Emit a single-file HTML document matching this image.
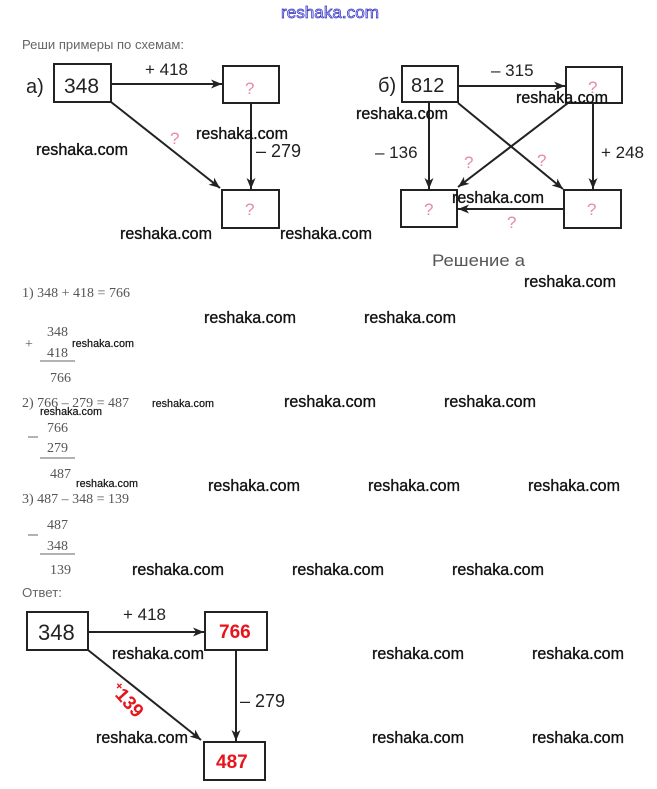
<!DOCTYPE html>
<html><head><meta charset="utf-8"><style>
html,body{margin:0;padding:0;background:#fff;}
svg{display:block;}
.wm{font-family:"Liberation Sans",sans-serif;font-size:17px;fill:#111;stroke:#111;stroke-width:0.35px;}
.wms{font-family:"Liberation Sans",sans-serif;font-size:11px;fill:#111;stroke:#111;stroke-width:0.2px;}
.d{font-family:"Liberation Sans",sans-serif;fill:#222;}
.q{font-family:"Liberation Sans",sans-serif;fill:#e58bb0;font-size:17px;}
.s{font-family:"Liberation Serif",serif;fill:#555;font-size:14px;}
.r{font-family:"Liberation Sans",sans-serif;fill:#e8141c;font-weight:bold;}
</style></head><body>
<svg width="657" height="789" viewBox="0 0 657 789" xmlns="http://www.w3.org/2000/svg">
<defs>
<marker id="ah" markerUnits="userSpaceOnUse" markerWidth="12" markerHeight="10" refX="11" refY="5" orient="auto">
<path d="M0,0.5 L11,5 L0,9.5 L3,5 z" fill="#222"/>
</marker>
</defs>
<rect width="657" height="789" fill="#fff"/>

<!-- top blue watermark -->
<text x="281" y="18" font-family="Liberation Sans, sans-serif" font-size="17" fill="#d6d6f5" stroke="#2f2fc4" stroke-width="0.7" textLength="98" lengthAdjust="spacingAndGlyphs">reshaka.com</text>

<text x="22" y="49" font-family="Liberation Sans, sans-serif" font-size="12.5" fill="#666" textLength="162" lengthAdjust="spacingAndGlyphs">Реши примеры по схемам:</text>

<!-- Part a -->
<g stroke="#222" stroke-width="2" fill="none">
<rect x="54" y="64" width="57" height="38"/>
<rect x="223" y="66" width="56" height="37"/>
<rect x="222" y="190" width="57" height="38"/>
<line x1="111" y1="84" x2="222" y2="84" marker-end="url(#ah)"/>
<line x1="251" y1="103" x2="251" y2="189" marker-end="url(#ah)"/>
<line x1="111" y1="102" x2="220" y2="188" marker-end="url(#ah)"/>
</g>
<text class="d" x="26" y="93" font-size="20">a)</text>
<text class="d" x="64" y="93" font-size="21">348</text>
<text class="d" x="145" y="75" font-size="17">+ 418</text>
<text class="d" x="256" y="157" font-size="18">– 279</text>
<text class="q" x="245" y="94">?</text>
<text class="q" x="245" y="215">?</text>
<text class="q" x="170" y="144">?</text>

<!-- Part b -->
<g stroke="#222" stroke-width="2" fill="none">
<rect x="402" y="66" width="56" height="36"/>
<rect x="566" y="67" width="56" height="36"/>
<rect x="401" y="190" width="56" height="37"/>
<rect x="564" y="190" width="57" height="38"/>
<line x1="458" y1="86" x2="565" y2="86" marker-end="url(#ah)"/>
<line x1="429" y1="102" x2="429" y2="189" marker-end="url(#ah)"/>
<line x1="593" y1="103" x2="593" y2="189" marker-end="url(#ah)"/>
<line x1="458" y1="103" x2="563" y2="189" marker-end="url(#ah)"/>
<line x1="568" y1="103" x2="458" y2="187" marker-end="url(#ah)"/>
<line x1="564" y1="209" x2="458" y2="209" marker-end="url(#ah)"/>
</g>
<text class="d" x="378" y="92" font-size="20">б)</text>
<text class="d" x="411" y="92" font-size="20">812</text>
<text class="d" x="491" y="76" font-size="17">– 315</text>
<text class="d" x="375" y="158" font-size="17">– 136</text>
<text class="d" x="601" y="158" font-size="17">+ 248</text>
<text class="q" x="588" y="93">?</text>
<text class="q" x="424" y="215">?</text>
<text class="q" x="587" y="215">?</text>
<text class="q" x="464" y="168">?</text>
<text class="q" x="537" y="166">?</text>
<text class="q" x="507" y="228">?</text>
<text x="432" y="266" font-family="Liberation Sans, sans-serif" font-size="17" fill="#555" textLength="93" lengthAdjust="spacingAndGlyphs">Решение а</text>

<!-- Computations -->
<text class="s" x="22" y="297">1) 348 + 418 = 766</text>
<text class="s" x="47" y="336">348</text>
<text class="s" x="25" y="348" font-size="18">+</text>
<text class="s" x="47" y="357">418</text>
<line x1="40" y1="361" x2="75" y2="361" stroke="#666" stroke-width="1"/>
<text class="s" x="50" y="382">766</text>

<text class="s" x="22" y="407">2) 766 – 279 = 487</text>
<text class="s" x="47" y="432">766</text>
<line x1="28" y1="437" x2="38" y2="437" stroke="#666" stroke-width="1"/>
<text class="s" x="47" y="452">279</text>
<line x1="40" y1="458" x2="75" y2="458" stroke="#666" stroke-width="1"/>
<text class="s" x="50" y="478">487</text>

<text class="s" x="22" y="503">3) 487 – 348 = 139</text>
<text class="s" x="47" y="529">487</text>
<line x1="28" y1="535" x2="38" y2="535" stroke="#666" stroke-width="1"/>
<text class="s" x="47" y="550">348</text>
<line x1="40" y1="554" x2="75" y2="554" stroke="#666" stroke-width="1"/>
<text class="s" x="50" y="574">139</text>

<text x="22" y="597" font-family="Liberation Sans, sans-serif" font-size="12.5" fill="#666" textLength="40" lengthAdjust="spacingAndGlyphs">Ответ:</text>

<!-- Answer diagram -->
<g stroke="#222" stroke-width="2" fill="none">
<rect x="27" y="612" width="61" height="38"/>
<rect x="205" y="612" width="62" height="38"/>
<rect x="204" y="742" width="61" height="38"/>
<line x1="88" y1="632" x2="204" y2="632" marker-end="url(#ah)"/>
<line x1="236" y1="650" x2="236" y2="741" marker-end="url(#ah)"/>
<line x1="88" y1="650" x2="201" y2="740" marker-end="url(#ah)"/>
</g>
<text class="d" x="38" y="640" font-size="22">348</text>
<text class="r" x="219" y="638" font-size="19">766</text>
<text class="r" x="216" y="768" font-size="19">487</text>
<text class="d" x="123" y="620" font-size="17">+ 418</text>
<text class="d" x="240" y="707" font-size="18">– 279</text>
<g transform="translate(114,686) rotate(48)">
<text class="r" x="0" y="0" font-size="12">+</text>
<text class="r" x="7" y="6" font-size="19">139</text>
</g>

<!-- Watermarks -->
<g class="wm">
<text x="36" y="155" textLength="92" lengthAdjust="spacingAndGlyphs">reshaka.com</text>
<text x="196" y="139" textLength="92" lengthAdjust="spacingAndGlyphs">reshaka.com</text>
<text x="356" y="119" textLength="92" lengthAdjust="spacingAndGlyphs">reshaka.com</text>
<text x="516" y="103" textLength="92" lengthAdjust="spacingAndGlyphs">reshaka.com</text>
<text x="120" y="239" textLength="92" lengthAdjust="spacingAndGlyphs">reshaka.com</text>
<text x="280" y="239" textLength="92" lengthAdjust="spacingAndGlyphs">reshaka.com</text>
<text x="452" y="203" textLength="92" lengthAdjust="spacingAndGlyphs">reshaka.com</text>
<text x="524" y="287" textLength="92" lengthAdjust="spacingAndGlyphs">reshaka.com</text>
<text x="204" y="323" textLength="92" lengthAdjust="spacingAndGlyphs">reshaka.com</text>
<text x="364" y="323" textLength="92" lengthAdjust="spacingAndGlyphs">reshaka.com</text>
<text x="284" y="407" textLength="92" lengthAdjust="spacingAndGlyphs">reshaka.com</text>
<text x="444" y="407" textLength="92" lengthAdjust="spacingAndGlyphs">reshaka.com</text>
<text x="208" y="491" textLength="92" lengthAdjust="spacingAndGlyphs">reshaka.com</text>
<text x="368" y="491" textLength="92" lengthAdjust="spacingAndGlyphs">reshaka.com</text>
<text x="528" y="491" textLength="92" lengthAdjust="spacingAndGlyphs">reshaka.com</text>
<text x="132" y="575" textLength="92" lengthAdjust="spacingAndGlyphs">reshaka.com</text>
<text x="292" y="575" textLength="92" lengthAdjust="spacingAndGlyphs">reshaka.com</text>
<text x="452" y="575" textLength="92" lengthAdjust="spacingAndGlyphs">reshaka.com</text>
<text x="112" y="659" textLength="92" lengthAdjust="spacingAndGlyphs">reshaka.com</text>
<text x="372" y="659" textLength="92" lengthAdjust="spacingAndGlyphs">reshaka.com</text>
<text x="532" y="659" textLength="92" lengthAdjust="spacingAndGlyphs">reshaka.com</text>
<text x="96" y="743" textLength="92" lengthAdjust="spacingAndGlyphs">reshaka.com</text>
<text x="372" y="743" textLength="92" lengthAdjust="spacingAndGlyphs">reshaka.com</text>
<text x="532" y="743" textLength="92" lengthAdjust="spacingAndGlyphs">reshaka.com</text>
</g>
<g class="wms">
<text x="72" y="347" textLength="62" lengthAdjust="spacingAndGlyphs">reshaka.com</text>
<text x="152" y="407" textLength="62" lengthAdjust="spacingAndGlyphs">reshaka.com</text>
<text x="40" y="415" textLength="62" lengthAdjust="spacingAndGlyphs">reshaka.com</text>
<text x="76" y="487" textLength="62" lengthAdjust="spacingAndGlyphs">reshaka.com</text>
</g>
</svg>
</body></html>
